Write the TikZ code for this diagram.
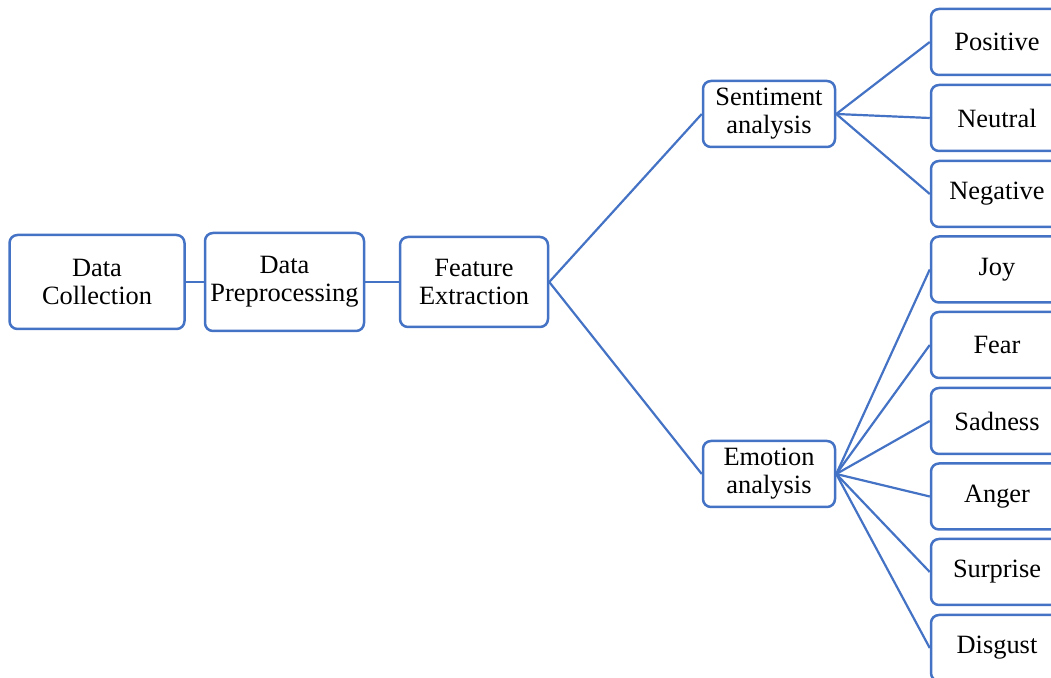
\documentclass[tikz,border=0pt]{standalone}
\usepackage{fontspec}
\setmainfont{Liberation Serif}
\begin{document}
\begin{tikzpicture}[x=0.5pt,y=-0.5pt,
  box/.style={draw=boxblue, line width=1.25pt, rounded corners=4pt, align=center,
    inner sep=0pt, font=\fontsize{13.2pt}{14pt}\selectfont, text=black},
  leaf/.style={box, minimum width=66pt, minimum height=33pt},
  link/.style={draw=boxblue, line width=1.1pt}]
\definecolor{boxblue}{HTML}{4472C4}
\useasboundingbox (0,0) rectangle (1051,678);
\clip (0,0) rectangle (1051,678);
% main pipeline
\node[box, minimum width=87.5pt, minimum height=47pt] (dc) at (97,282) {Data\\Collection};
\node[box, minimum width=79.5pt, minimum height=49pt] (dp) at (284.5,282) {Data\\Preprocessing};
\node[box, minimum width=74pt, minimum height=45pt] (fe) at (474,282) {Feature\\Extraction};
% analysis branches
\node[box, minimum width=66pt, minimum height=33pt] (sa) at (769,114) {Sentiment\\analysis};
\node[box, minimum width=66pt, minimum height=33pt] (ea) at (769,474) {Emotion\\analysis};
% sentiment classes
\node[leaf] (pos) at (997,42) {Positive};
\node[leaf] (neu) at (997,118) {Neutral};
\node[leaf] (neg) at (997,194) {Negative};
% emotion classes
\node[leaf] (joy) at (997,269.5) {Joy};
\node[leaf] (fear) at (997,345) {Fear};
\node[leaf] (sad) at (997,421) {Sadness};
\node[leaf] (ang) at (997,496.5) {Anger};
\node[leaf] (sur) at (997,572) {Surprise};
\node[leaf] (dis) at (997,648) {Disgust};
% connectors
\draw[link] (dc.east) -- (dp.west);
\draw[link] (dp.east) -- (fe.west);
\draw[link] (fe.east) -- (sa.west);
\draw[link] (fe.east) -- (ea.west);
\foreach \t in {pos,neu,neg} \draw[link] (sa.east) -- (\t.west);
\foreach \t in {joy,fear,sad,ang,sur,dis} \draw[link] (ea.east) -- (\t.west);
\end{tikzpicture}
\end{document}
